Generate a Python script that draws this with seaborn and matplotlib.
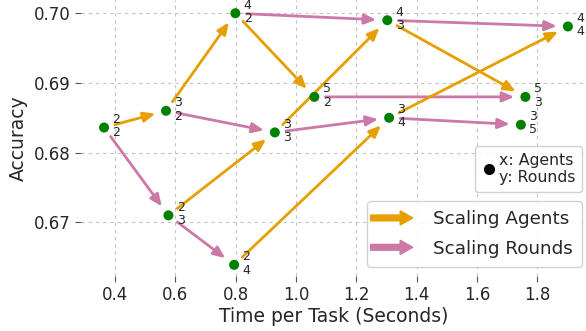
import matplotlib
matplotlib.use("Agg")
import matplotlib.pyplot as plt
import matplotlib.patches as mpatches
from matplotlib.legend_handler import HandlerPatch
from matplotlib.lines import Line2D
import seaborn as sns
import pandas as pd

# configurations: (agents, rounds)
agents = [2, 3, 4, 5, 2, 3, 4, 5, 2, 3, 4, 3]
rounds = [2, 2, 2, 2, 3, 3, 3, 3, 4, 4, 4, 5]
time_per_task = [0.3635, 0.569, 0.799, 1.061, 0.577, 0.930, 1.303, 1.761, 0.795, 1.309, 1.902, 1.746]
accuracy = [0.6836, 0.6860, 0.7000, 0.6880, 0.6710, 0.6829, 0.6990, 0.6880, 0.6639, 0.6850, 0.6981, 0.6840]

ORANGE = "#E69F00"
PINK = "#CC79A7"

sns.set_style("whitegrid", {"grid.linestyle": (0, (3, 3.5)), "grid.color": "#c4c4c4"})
plt.rcParams["font.family"] = ["DejaVu Sans"]
plt.rcParams["grid.linewidth"] = 0.8

df = pd.DataFrame({"agents": agents, "rounds": rounds,
                   "time": time_per_task, "acc": accuracy})

fig = plt.figure(figsize=(5.86, 3.31), dpi=100)
ax = fig.add_axes([81 / 586, 55 / 331, 505 / 586, 276 / 331])

lookup = {(a, r): (t, y) for a, r, t, y in zip(agents, rounds, time_per_task, accuracy)}


def arrow(src, dst, color):
    ax.annotate("", xy=lookup[dst], xytext=lookup[src],
                arrowprops=dict(arrowstyle="-|>,head_length=0.7,head_width=0.3",
                                color=color, lw=2.0, shrinkA=8, shrinkB=8),
                zorder=2)


for (a, r) in lookup:
    if (a + 1, r) in lookup:
        arrow((a, r), (a + 1, r), ORANGE)
    if (a, r + 1) in lookup:
        arrow((a, r), (a, r + 1), PINK)

sns.scatterplot(data=df, x="time", y="acc", color="green", s=52,
                edgecolor="none", ax=ax, zorder=3, legend=False)

for a, r, t, y in zip(agents, rounds, time_per_task, accuracy):
    ax.annotate(f"{a}\n{r}", xy=(t, y), xytext=(6, 1), textcoords="offset points",
                ha="left", va="center", fontsize=9, linespacing=1.02,
                annotation_clip=False)

ax.set_xlim(0.287, 1.962)
ax.set_ylim(0.6623, 0.7019)
ax.set_xticks([0.4, 0.6, 0.8, 1.0, 1.2, 1.4, 1.6, 1.8])
ax.set_yticks([0.67, 0.68, 0.69, 0.70])
ax.set_yticklabels(["0.67", "0.68", "0.69", "0.70"])
ax.tick_params(axis="both", labelsize=12, length=4, color="#555555",
               bottom=True, left=True)
ax.set_xlabel("Time per Task (Seconds)", fontsize=13.5, labelpad=2)
ax.set_ylabel("Accuracy", fontsize=13.5, labelpad=4)
for s in ax.spines.values():
    s.set_visible(False)


class ArrowHandler(HandlerPatch):
    def create_artists(self, legend, orig_handle, xdescent, ydescent,
                       width, height, fontsize, trans):
        x0 = -4
        p = mpatches.FancyArrow(x0, height / 2, width, 0, width=height * 0.45,
                                head_width=height * 1.1, head_length=width * 0.3,
                                length_includes_head=True,
                                color=orig_handle.get_facecolor())
        p.set_transform(trans)
        return [p]


h_agents = mpatches.Patch(color=ORANGE)
h_rounds = mpatches.Patch(color=PINK)
leg1 = ax.legend([h_agents, h_rounds], ["Scaling Agents", "Scaling Rounds"],
                 handler_map={mpatches.Patch: ArrowHandler()},
                 loc="lower right", bbox_to_anchor=(0.992, 0.033),
                 borderaxespad=0, fontsize=13.2, handlelength=2.3,
                 handletextpad=0.8, frameon=True, framealpha=0.9,
                 borderpad=0.5, labelspacing=0.62)
ax.add_artist(leg1)

h_dot = Line2D([], [], marker="o", color="black", linestyle="none", markersize=7)
ax.legend([h_dot], ["x: Agents\ny: Rounds"], loc="lower right",
          bbox_to_anchor=(0.992, 0.304), borderaxespad=0, fontsize=11.3,
          handlelength=0.9, handletextpad=0.15, frameon=True, framealpha=0.9,
          borderpad=0.45)

fig.savefig("out.png", dpi=100)
